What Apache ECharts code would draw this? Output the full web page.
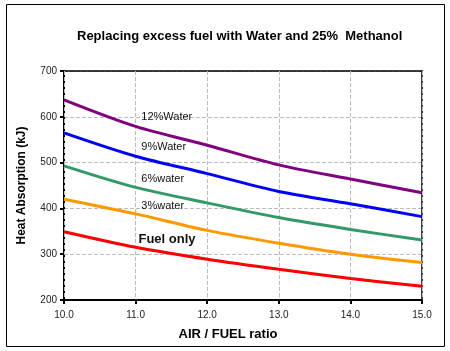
<!DOCTYPE html>
<html><head><meta charset="utf-8">
<script src="https://cdn.jsdelivr.net/npm/echarts@6/dist/echarts.min.js"></script>
<style>html,body{margin:0;padding:0;background:#fff}#c{width:450px;height:351px}</style>
</head><body><div id="c"></div>
<script>
var airFuel = [10, 11, 12, 13, 14, 15];
var fuelOnly = [349, 315, 289, 267, 247, 230];
var water3 = [420, 388, 352, 324, 300, 282];
var water6 = [493, 446, 412, 380, 354, 331];
var water9 = [565, 514, 476, 437, 410, 382];
var water12 = [637, 579, 538, 495, 464, 434];
var seriesNames = ['Fuel only', '3%water', '6%water', '9%Water', '12%Water'];
var seriesColors = ['#FF0000', '#FF9900', '#339966', '#0000FF', '#800080'];
var labelX = [11.04, 11.08, 11.08, 11.08, 11.08];
var labelY = [333, 405, 464, 534, 600];

var allData = [fuelOnly, water3, water6, water9, water12];
var chart = echarts.init(document.getElementById('c'));
var font = 'Arial, Liberation Sans';
var series = allData.map(function (vals, i) {
  return {
    name: seriesNames[i], type: 'line', smooth: 0.3, symbol: 'none',
    data: vals.map(function (v, j) { return [airFuel[j], v]; }),
    lineStyle: { color: seriesColors[i], width: 3 },
    itemStyle: { color: seriesColors[i] },
    markPoint: {
      symbol: 'circle', symbolSize: 0, silent: true,
      label: {
        show: true, position: 'right', distance: 0,
        formatter: seriesNames[i],
        fontFamily: font, color: '#111',
        fontSize: i === 0 ? 13 : 11, fontWeight: i === 0 ? 'bold' : 'normal'
      },
      data: [{ coord: [labelX[i], labelY[i]] }]
    }
  };
});
var hidden = { show: false };
chart.setOption({
  animation: false,
  title: {
    text: 'Replacing excess fuel with Water and 25%  Methanol',
    left: 72, top: 25,
    textStyle: { fontFamily: font, fontSize: 13, fontWeight: 'bold', color: '#000' }
  },
  grid: { left: 64, right: 28, top: 71, bottom: 51 },
  xAxis: [{
    type: 'value', min: 10, max: 15, interval: 1,
    name: 'AIR / FUEL ratio', nameLocation: 'middle', nameGap: 28,
    nameTextStyle: { fontFamily: font, fontSize: 13, fontWeight: 'bold', color: '#000', padding: [0, 30, 0, 0] },
    axisLine: { lineStyle: { color: '#000', width: 2 } },
    axisTick: { show: true, inside: false, length: 4, lineStyle: { color: '#000', width: 2 } },
    axisLabel: { margin: 10, fontFamily: font, fontSize: 10, color: '#222', formatter: function (v) { return v.toFixed(1); } },
    splitLine: { show: true, lineStyle: { color: '#bbb', type: 'dashed', width: 1 } },
    z: 1
  }, {
    type: 'value', position: 'top', min: 10, max: 15, interval: 1,
    axisLine: { show: true, lineStyle: { color: '#000', width: 1.5 } },
    axisTick: hidden, axisLabel: hidden, splitLine: hidden
  }],
  yAxis: [{
    type: 'value', min: 200, max: 700, interval: 100,
    name: 'Heat Absorption (kJ)', nameLocation: 'middle', nameGap: 36,
    nameTextStyle: { fontFamily: font, fontSize: 12, fontWeight: 'bold', color: '#000' },
    axisLine: { show: true, lineStyle: { color: '#000', width: 2 } },
    axisTick: { show: true, inside: false, length: 4, lineStyle: { color: '#000', width: 2 } },
    axisLabel: { margin: 7, fontFamily: font, fontSize: 10, color: '#222' },
    splitLine: { show: true, lineStyle: { color: '#bbb', type: 'dashed', width: 1 } }
  }, {
    type: 'value', position: 'right', min: 200, max: 700, interval: 100,
    axisLine: { show: true, lineStyle: { color: '#000', width: 1.5 } },
    axisTick: hidden, axisLabel: hidden, splitLine: hidden
  }],
  graphic: [{
    type: 'rect', silent: true,
    shape: { x: 6.5, y: 4.5, width: 438, height: 342 },
    style: { fill: 'none', stroke: '#000', lineWidth: 1 }
  }],
  series: series
});
</script></body></html>
